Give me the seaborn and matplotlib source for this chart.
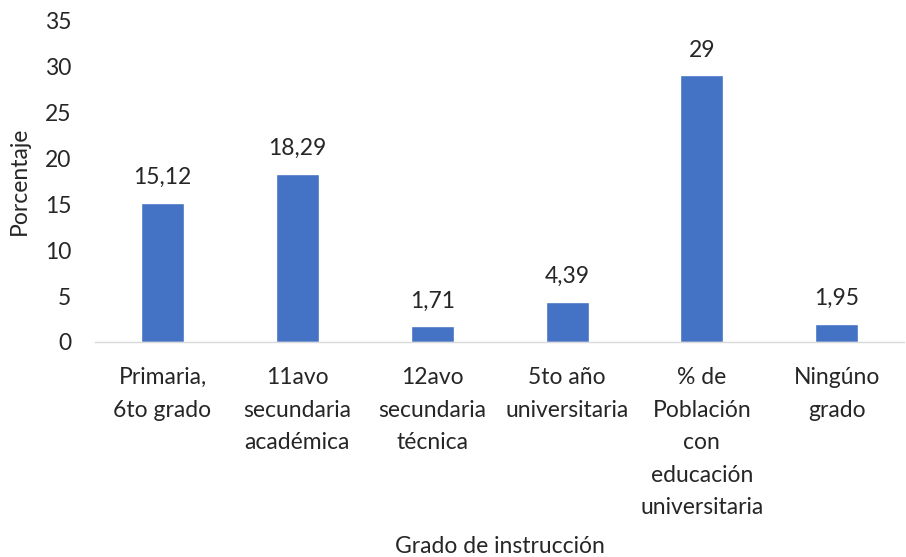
import matplotlib
matplotlib.use("Agg")
import matplotlib.pyplot as plt
import seaborn as sns
import pandas as pd

# Data
categories = [
    "Primaria,\n6to grado",
    "11avo\nsecundaria\nacadémica",
    "12avo\nsecundaria\ntécnica",
    "5to año\nuniversitaria",
    "% de\nPoblación\ncon\neducación\nuniversitaria",
    "Ningúno\ngrado",
]
values = [15.12, 18.29, 1.71, 4.39, 29, 1.95]
value_labels = ["15,12", "18,29", "1,71", "4,39", "29", "1,95"]
yticks = [0, 5, 10, 15, 20, 25, 30, 35]

df = pd.DataFrame({"Grado": categories, "Porcentaje": values})

sns.set_theme(style="white")
plt.rcParams["font.family"] = ["Lato", "DejaVu Sans"]

FS = 16.5
TXT = "#262626"

fig = plt.figure(figsize=(9.06, 5.57), dpi=100)
ax = fig.add_axes([0.105, 0.386, 0.893, 0.578])

sns.barplot(data=df, x="Grado", y="Porcentaje", color="#4472C4",
            width=0.32, saturation=1, ax=ax)

for i, (v, lab) in enumerate(zip(values, value_labels)):
    ax.text(i, v + 1.6, lab, ha="center", va="bottom", fontsize=FS, color=TXT)

ax.set_ylim(0, 35)
ax.set_yticks(yticks)
ax.set_yticklabels([str(t) for t in yticks], fontsize=FS, color=TXT)
ax.set_xticks(range(len(categories)))
ax.set_xticklabels(categories, fontsize=FS, color=TXT, linespacing=1.68)
ax.tick_params(axis="x", length=0, pad=18)
ax.tick_params(axis="y", length=0, pad=17)
ax.set_xlim(-0.5, len(categories) - 0.5)

ax.set_ylabel("Porcentaje", fontsize=FS, color=TXT, labelpad=11)
ax.set_xlabel("Grado de instrucción", fontsize=FS, color=TXT, labelpad=13)

for s in ["top", "right", "left"]:
    ax.spines[s].set_visible(False)
ax.spines["bottom"].set_color("#D9D9D9")
ax.spines["bottom"].set_linewidth(1)

fig.savefig("out.png", dpi=100)
